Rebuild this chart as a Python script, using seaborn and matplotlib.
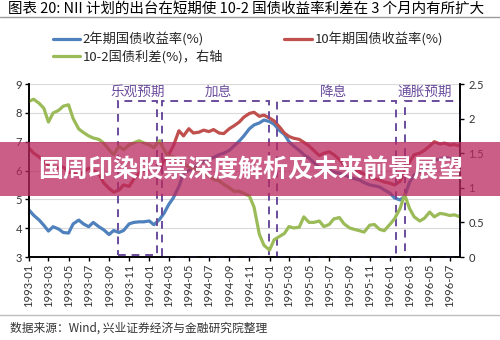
import numpy as np
import pandas as pd
import matplotlib
matplotlib.use('Agg')
import matplotlib.pyplot as plt
import matplotlib.dates as mdates
from matplotlib.patches import Rectangle
import seaborn as sns

# ---------------- data (semi-monthly readings) ----------------
dates = pd.date_range('1993-01-01', periods=87, freq='SMS')

yield_2y = [4.63, 4.45, 4.28, 4.10, 3.90, 4.05, 3.97, 3.85, 3.83, 4.15,
            4.28, 4.15, 4.05, 4.20, 4.05, 3.95, 3.78, 3.92, 3.85, 3.92,
            4.15, 4.20, 4.22, 4.22, 4.25, 4.12, 4.30, 4.52, 4.82, 5.05,
            5.45, 5.90, 6.00, 6.10, 6.25, 6.30, 6.40, 6.45, 6.55, 6.60,
            6.70, 6.85, 7.02, 7.20, 7.45, 7.58, 7.65, 7.75, 7.70, 7.60,
            7.38, 7.25, 7.00, 6.85, 6.70, 6.55, 6.43, 6.28, 6.12, 6.05,
            6.02, 5.95, 5.90, 5.85, 5.77, 5.72, 5.67, 5.58, 5.50, 5.47,
            5.43, 5.33, 5.22, 5.05, 4.98, 5.10, 5.60, 5.85, 5.95, 6.05,
            6.20, 6.35, 6.40, 6.45, 6.42, 6.40, 6.35]

yield_10y = [6.78, 6.60, 6.47, 6.30, 6.20, 6.12, 6.08, 6.12, 5.95, 5.90,
             5.84, 5.95, 6.08, 6.00, 5.90, 5.58, 5.38, 5.25, 5.32, 5.50,
             5.45, 5.70, 5.90, 6.00, 6.05, 6.10, 6.02, 6.35, 6.55, 6.85,
             7.38, 7.20, 7.45, 7.30, 7.33, 7.40, 7.35, 7.42, 7.30, 7.28,
             7.45, 7.55, 7.68, 7.85, 7.98, 8.02, 7.88, 7.92, 7.82, 7.72,
             7.50, 7.30, 7.18, 7.12, 7.08, 6.98, 6.85, 6.70, 6.52, 6.60,
             6.65, 6.55, 6.38, 6.20, 6.02, 6.05, 5.95, 5.88, 5.78, 5.72,
             5.67, 5.60, 5.56, 5.50, 5.62, 5.95, 6.30, 6.55, 6.60, 6.70,
             6.85, 7.00, 6.92, 6.95, 6.88, 6.90, 6.85]

spread_10_2 = [2.25, 2.28, 2.22, 2.15, 1.95, 2.08, 2.12, 2.18, 2.20, 2.00,
               1.85, 1.80, 1.75, 1.72, 1.70, 1.65, 1.55, 1.48, 1.60, 1.55,
               1.62, 1.65, 1.68, 1.65, 1.62, 1.58, 1.68, 1.55, 1.45, 1.45,
               1.40, 1.35, 1.30, 1.28, 1.25, 1.20, 1.18, 1.12, 1.10, 1.05,
               1.00, 0.95, 0.95, 0.92, 0.88, 0.72, 0.33, 0.17, 0.10, 0.25,
               0.30, 0.34, 0.44, 0.42, 0.43, 0.58, 0.50, 0.50, 0.52, 0.44,
               0.47, 0.55, 0.57, 0.48, 0.42, 0.40, 0.38, 0.36, 0.46, 0.47,
               0.40, 0.38, 0.47, 0.55, 0.70, 0.90, 0.70, 0.58, 0.52, 0.56,
               0.65, 0.58, 0.63, 0.62, 0.60, 0.61, 0.58]

series_labels = ['2年期国债收益率(%)', '10年期国债收益率(%)', '10-2国债利差(%)，右轴']

period_labels = ['乐观预期', '加息', '降息', '通胀预期']
period_start = ['1993-09-28', '1994-02-09', '1995-01-24', '1996-02-16']
period_end = ['1994-01-24', '1994-12-30', '1996-01-20', '1996-08-01']
period_label_at = ['1993-11-27', '1994-07-30', '1995-07-14', '1996-04-16']

# ---------------- style ----------------
sns.set_theme(style='white')
plt.rcParams['font.family'] = ['Noto Sans CJK SC', 'DejaVu Sans']
plt.rcParams['axes.unicode_minus'] = False

C_BLUE = '#4F81BD'
C_RED = '#C0504D'
C_GREEN = '#9BBB59'
C_BOX = '#6A4C9C'

fig = plt.figure(figsize=(5, 3.4), dpi=100)
ax = fig.add_axes([0.058, 0.2441, 0.862, 0.5088])
ax2 = ax.twinx()

sns.lineplot(x=dates, y=yield_2y, ax=ax, color=C_BLUE, lw=2.3, legend=False)
sns.lineplot(x=dates, y=yield_10y, ax=ax, color=C_RED, lw=2.3, legend=False)
sns.lineplot(x=dates, y=spread_10_2, ax=ax2, color=C_GREEN, lw=2.3, legend=False)

ax.set_ylim(3, 9)
ax2.set_ylim(0, 2.5)
ax.set_xlim(pd.Timestamp('1993-01-01'), pd.Timestamp('1996-08-01'))
ax.set_yticks(range(3, 10))
ax2.set_yticks([0, 0.5, 1, 1.5, 2, 2.5])
ax2.set_yticklabels(['0', '0.5', '1', '1.5', '2', '2.5'])
ax.set_xlabel('')
ax.set_ylabel('')
ax2.set_ylabel('')

ax.xaxis.set_major_locator(mdates.MonthLocator(bymonth=[1, 3, 5, 7, 9, 11]))
ax.xaxis.set_major_formatter(mdates.DateFormatter('%Y-%m'))
for lab in ax.get_xticklabels():
    lab.set_rotation(90)

ax.yaxis.grid(True, color='#d9d9d9', lw=0.8)
ax.xaxis.grid(False)
ax2.grid(False)
ax.set_axisbelow(True)

for a in (ax, ax2):
    a.spines['top'].set_visible(False)
    for s in ('left', 'right', 'bottom'):
        a.spines[s].set_color('black')
        a.spines[s].set_linewidth(1.2)

ax.tick_params(axis='both', which='major', direction='out', length=3, width=1,
               color='black', labelsize=8, labelcolor='#333333',
               left=True, bottom=True, pad=2)
ax2.tick_params(axis='y', direction='out', length=3, width=1, color='black',
                labelsize=8, labelcolor='#333333', right=True, pad=3)
for lab in ax.get_xticklabels() + ax.get_yticklabels() + ax2.get_yticklabels():
    lab.set_fontfamily(['Lato', 'DejaVu Sans'])

# period boxes
for i, (lab, s, e, c) in enumerate(zip(period_labels, period_start, period_end,
                                        period_label_at)):
    x0 = mdates.date2num(pd.Timestamp(s))
    x1 = mdates.date2num(pd.Timestamp(e))
    y0 = 3.07 if i == 0 else 3.0
    ax.add_patch(Rectangle((x0, y0), x1 - x0, 8.42 - y0, fill=False,
                           edgecolor=C_BOX, lw=1.4, ls=(0, (4, 3)),
                           clip_on=False, zorder=5))
    ax.text(pd.Timestamp(c), 8.72, lab, ha='center', va='center',
            fontsize=9.8, color=C_BOX, zorder=6)

# legend
h = ax.get_lines()[:2] + ax2.get_lines()[:1]
fig.legend([h[0], h[2], h[1]], [series_labels[0], series_labels[2], series_labels[1]],
           ncol=2, loc='upper left', bbox_to_anchor=(0.105, 0.905),
           frameon=False, fontsize=9.5, handlelength=2.1, handletextpad=0.2,
           columnspacing=4.6, labelspacing=0.25, borderpad=0, borderaxespad=0)

# title and header line
fig.text(0.016, 1 - 9 / 340, '图表 20: NII 计划的出台在短期使 10-2 国债收益率利差在 3 个月内有所扩大',
         ha='left', va='center', fontsize=10.45, color='black')
fig.add_artist(plt.Line2D([0, 1], [1 - 17 / 340] * 2, transform=fig.transFigure,
                          color='#9a9a9a', lw=1.0))

# footer
fig.add_artist(plt.Line2D([0, 1], [1 - 315 / 340] * 2, transform=fig.transFigure,
                          color='#bdbdbd', lw=1.0))
fig.text(0.02, 1 - 328 / 340, '数据来源：Wind, 兴业证券经济与金融研究院整理',
         ha='left', va='center', fontsize=8.5, color='#333333')

# banner overlay
fig.add_artist(Rectangle((0, 1 - 196 / 340), 1, 54 / 340, transform=fig.transFigure,
                         facecolor=(185 / 255, 40 / 255, 95 / 255), alpha=0.75,
                         edgecolor='none', zorder=10))
fig.text(0.502, 1 - 171 / 340, '国周印染股票深度解析及未来前景展望', ha='center',
         va='center', fontsize=18, fontweight='bold', color='white', zorder=11)

fig.savefig('out.png', dpi=100)
